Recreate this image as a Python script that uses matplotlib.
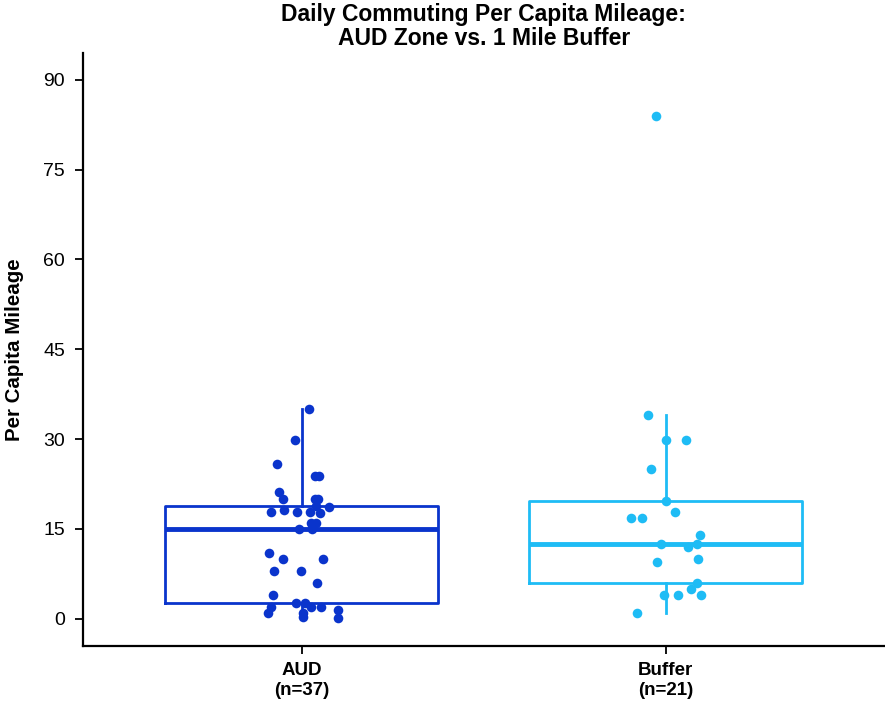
import numpy as np
import matplotlib
matplotlib.use("Agg")
import matplotlib.pyplot as plt

plt.rcParams['font.family'] = ['Liberation Sans', 'DejaVu Sans']

categories = ["AUD", "Buffer"]
counts = [37, 21]
colors = ["#0a34cc", "#1ebcf5"]

# per capita mileage
aud_values = [35.0, 29.9, 25.9, 23.9, 23.9, 21.1, 20.0, 20.0, 20.0, 17.9,
              18.2, 17.9, 17.9, 17.7, 18.6, 18.9, 16.0, 16.0, 15.0, 15.0,
              11.0, 9.9, 9.9, 8.0, 8.0, 6.0, 4.0, 2.6, 2.6, 1.9,
              1.9, 1.9, 0.95, 0.9, 0.3, 1.5, 0.2]
aud_jitter = [0.020, -0.018, -0.069, 0.037, 0.048, -0.063, -0.051, 0.037, 0.044, -0.084,
              -0.048, -0.014, 0.023, 0.050, 0.076, 0.039, 0.026, 0.039, -0.007, 0.029,
              -0.089, -0.052, 0.060, -0.077, -0.003, 0.041, -0.078, -0.015, 0.009, 0.026,
              0.054, -0.084, -0.092, 0.003, 0.005, 0.101, 0.101]

buffer_values = [34.0, 29.9, 29.9, 25.0, 17.9, 16.9, 16.9, 14.0, 12.5, 11.9,
                 12.4, 9.5, 9.9, 5.9, 5.0, 4.0, 4.0, 4.0, 0.95, 84.0, 19.7]
buffer_jitter = [-0.049, 0.0, 0.057, -0.040, 0.026, -0.095, -0.066, 0.094, -0.013, 0.060,
                 0.086, -0.024, 0.089, 0.086, 0.070, -0.005, 0.033, 0.098, -0.080, -0.027, 0.0]

title_lines = ["Daily Commuting Per Capita Mileage:", "AUD Zone vs. 1 Mile Buffer"]

values = [aud_values, buffer_values]
jitters = [aud_jitter, buffer_jitter]

fig = plt.figure(figsize=(8.85, 7.04), dpi=100)
ax = fig.add_axes([0.094, 0.082, 0.905, 0.843])

for i, (vals, jit, col) in enumerate(zip(values, jitters, colors)):
    pos = i + 1
    ax.boxplot(vals, positions=[pos], widths=0.75, whis=1.5, showfliers=False,
               showcaps=False, patch_artist=False,
               boxprops=dict(color=col, linewidth=2),
               whiskerprops=dict(color=col, linewidth=2),
               medianprops=dict(color=col, linewidth=3.5))
    ax.scatter(pos + np.array(jit), vals, s=48, color=col, zorder=3, linewidths=0)

ax.set_xlim(0.4, 2.6)
ax.set_ylim(-4.6, 94.5)
ax.set_yticks([0, 15, 30, 45, 60, 75, 90])
ax.set_xticks([1, 2])
ax.set_xticklabels([f"{c}\n(n={n})" for c, n in zip(categories, counts)],
                   fontweight="bold", fontsize=13.5, linespacing=1.25)
ax.tick_params(axis="y", labelsize=14, length=6, width=1.3, color="black", pad=7)
ax.tick_params(axis="x", length=6, width=1.3, color="black", pad=5)
for side in ["top", "right"]:
    ax.spines[side].set_visible(False)
for side in ["left", "bottom"]:
    ax.spines[side].set_linewidth(1.6)

ax.set_ylabel("Per Capita Mileage", fontsize=14.8, fontweight="bold")
ax.yaxis.set_label_coords(-0.074, 0.5)

# title, one line at a time, centred over the panel
cx = 0.094 + 0.905 / 2
fig.text(cx, 1 - 21 / 704, title_lines[0], ha="center", va="baseline",
         fontsize=16.5, fontweight="bold")
fig.text(cx, 1 - 45 / 704, title_lines[1], ha="center", va="baseline",
         fontsize=16.5, fontweight="bold")

fig.savefig("out.png", dpi=100)
